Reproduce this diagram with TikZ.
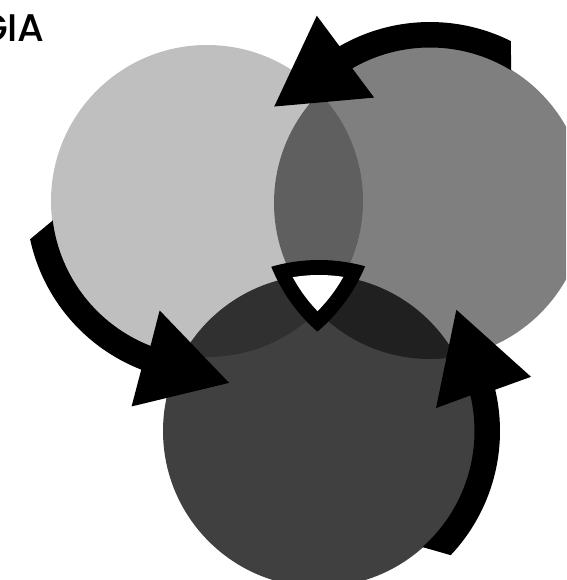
\documentclass[tikz,border=0pt]{standalone}
\usepackage{fontspec}
\newfontfamily\giafont{Poppins Medium}
\usetikzlibrary{calc}

\begin{document}
\begin{tikzpicture}[
    x=1pt, y=1pt, yscale=-1,
    disc/.style={fill=black, draw=none},
    cyc/.style={fill=black, draw=none},
    lbl/.style={inner sep=0pt, font=\giafont\fontsize{38.5}{40}\selectfont, text=black}
  ]
    \useasboundingbox (0,0) rectangle (566,580);
    \clip (0,0) rectangle (566,580);

    % --- CENTRES ---
    \coordinate (light) at (207,201);
    \coordinate (mid) at (430,203);
    \coordinate (dark) at (319,431);

    % --- THREE DISCS ---
    \fill[disc, fill opacity=0.25] (light) circle (156);
    \fill[disc, fill opacity=0.5] (mid) circle (156);
    \fill[disc, fill opacity=0.75] (dark) circle (156);

    % --- CENTRE TRIANGLE ---
    \begin{scope}
      \clip (light) circle (171);
      \clip (mid) circle (171);
      \fill[black] (dark) circle (171);
    \end{scope}
    \begin{scope}
      \clip (light) circle (156);
      \clip (mid) circle (156);
      \fill[white] (dark) circle (156);
    \end{scope}

    % --- CURVED ARROWS ---
    \fill[cyc] ($(mid)+(-63.5:181)$) arc[start angle=-63.5, end angle=-120, radius=181]
      -- ($(mid)+(-120:169)+(-125:50)$) -- ($(mid)+(-120:169)+(-215:87)$) -- ($(mid)+(-120:169)+(55:50)$)
      -- ($(mid)+(-120:155.5)$) arc[start angle=-120, end angle=-58.5, radius=155.5] -- cycle;
    \fill[cyc] ($(light)+(167.8:181)$) arc[start angle=167.8, end angle=111.3, radius=181]
      -- ($(light)+(111.3:169)+(106.3:50)$) -- ($(light)+(111.3:169)+(16.3:87)$) -- ($(light)+(111.3:169)+(286.3:50)$)
      -- ($(light)+(111.3:155.5)$) arc[start angle=111.3, end angle=172.8, radius=155.5] -- cycle;
    \fill[cyc] ($(dark)+(43.3:181)$) arc[start angle=43.3, end angle=-13.2, radius=181]
      -- ($(dark)+(-13.2:169)+(-18.2:50)$) -- ($(dark)+(-13.2:169)+(-108.2:87)$) -- ($(dark)+(-13.2:169)+(161.8:50)$)
      -- ($(dark)+(-13.2:155.5)$) arc[start angle=-13.2, end angle=48.3, radius=155.5] -- cycle;

    % --- TITLE (cut at the left edge) ---
    \node[lbl, anchor=base east] (title) at (45,42) {GIA};
  \end{tikzpicture}
\end{document}
